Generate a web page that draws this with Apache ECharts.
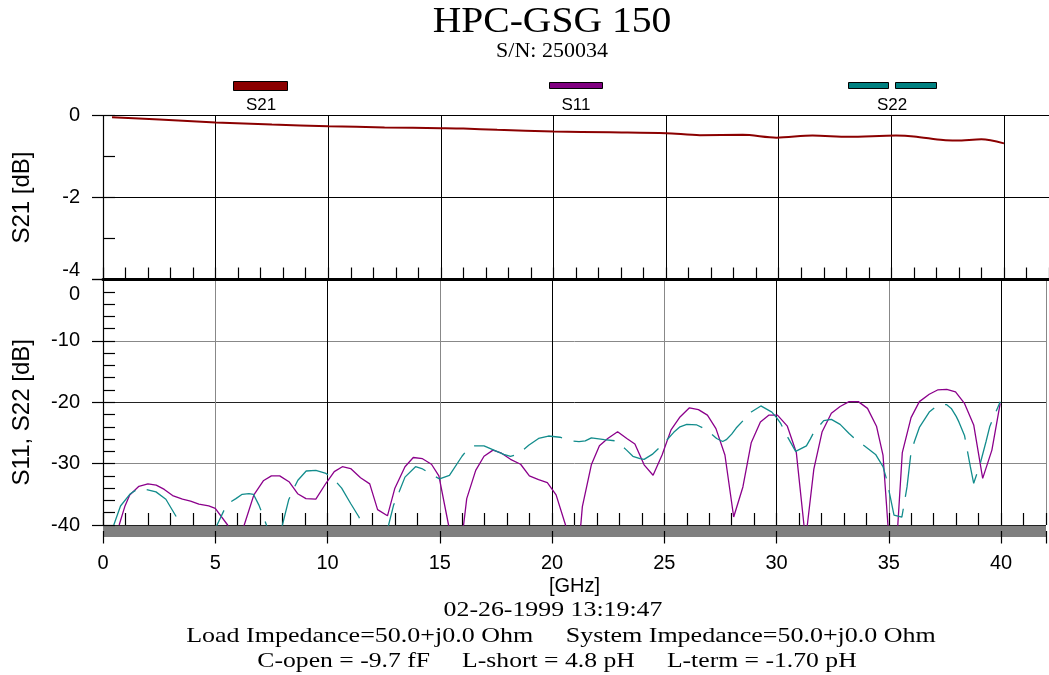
<!DOCTYPE html>
<html>
<head>
<meta charset="utf-8">
<title>HPC-GSG 150</title>
<script src="https://cdn.jsdelivr.net/npm/echarts@6/dist/echarts.min.js"></script>
<style>
    html, body { margin: 0; padding: 0; background: #fff; }
    #chart { width: 1049px; height: 675px; }
</style>
</head>
<body>
<div id="chart"></div>
<script>
// S21 (transmission) [GHz], [dB]
var s21Freq = [0.4, 2.5, 5, 7.5, 10, 12.5, 15, 16, 17.5, 20, 22.5, 25, 26.5, 28.4, 29.9, 31.5, 33.1, 35.2, 36, 37.3, 37.9, 39, 40];
var s21Db = [-0.04, -0.1, -0.17, -0.22, -0.26, -0.29, -0.31, -0.32, -0.35, -0.39, -0.41, -0.43, -0.48, -0.47, -0.54, -0.49, -0.52, -0.49, -0.51, -0.6, -0.61, -0.58, -0.68];

// S11 (input reflection)
var s11Freq = [0.72, 0.97, 1.19, 1.6, 2.0, 2.37, 2.73, 3.1, 3.54, 3.9, 4.27, 4.71, 5.0, 5.55, 5.9, 6.29,
    6.72, 7.14, 7.5, 7.87, 8.3, 8.67, 9.04, 9.48, 9.93, 10.3, 10.66, 11.03, 11.47, 11.88, 12.23, 12.67,
    13.0, 13.45, 13.82, 14.23, 14.63, 14.96, 15.39, 15.7, 16.06, 16.2, 16.6, 16.97, 17.37, 17.75, 18.15,
    18.6, 18.99, 19.4, 19.79, 20.18, 20.6, 20.95, 21.28, 21.35, 21.75, 22.11, 22.48, 22.92, 23.33, 23.69,
    24.1, 24.5, 24.9, 25.3, 25.7, 26.12, 26.52, 26.92, 27.3, 27.7, 28.09, 28.5, 28.87, 29.28, 29.65, 30.04,
    30.48, 30.88, 31.22, 31.3, 31.37, 31.66, 32.03, 32.44, 32.83, 33.23, 33.64, 34.05, 34.45, 34.74, 34.96,
    35.2, 35.4, 35.6, 35.99, 36.36, 36.8, 37.17, 37.58, 37.97, 38.37, 38.78, 39.18, 39.59, 39.96];
var s11Db = [-40, -37.0, -35.1, -33.7, -33.3, -33.5, -34.2, -35.2, -35.8, -36.1, -36.6, -36.9, -37.3, -40, -46, -40,
    -35.1, -32.8, -32.0, -32.0, -33.0, -34.9, -35.7, -35.8, -33.2, -31.3, -30.5, -30.8, -32.3, -33.3, -37.5, -38.5,
    -34.0, -30.5, -29.0, -29.2, -30.1, -32.0, -40, -46, -40, -35.7, -31.1, -28.8, -27.8, -28.3, -29.3,
    -30.1, -32.0, -32.6, -33.1, -35.1, -40, -46, -40, -37.0, -30.2, -27.1, -25.9, -24.8, -25.9, -26.8,
    -30.2, -31.9, -28.6, -24.5, -22.4, -20.9, -21.2, -22.1, -24.3, -28.6, -38.7, -33.8, -26.6, -23.2, -22.1, -22.1,
    -23.9, -28.2, -40, -44, -40, -30.9, -24.8, -21.8, -20.7, -19.9, -19.9, -21.0, -23.9, -28.6, -40,
    -46, -40, -28.2, -22.5, -19.9, -18.7, -18.0, -17.9, -18.3, -20.2, -23.7, -32.4, -27.8, -20.2];

// S22 (output reflection)
var s22Freq = [0.48, 0.78, 1.22, 1.6, 1.92, 2.36, 2.8, 3.32, 3.6, 4.3, 5.08, 5.52, 5.92, 6.2, 6.5, 6.7, 6.95,
    7.28, 7.6, 7.99, 8.27, 8.53, 8.68, 9.05, 9.48, 9.93, 10.3, 10.63, 11.03, 11.4, 11.54, 12.1, 12.72, 12.94,
    13.2, 13.45, 13.92, 14.2, 14.52, 14.99, 15.43, 15.99, 16.25, 16.53, 16.97, 17.41, 17.85, 18.15, 18.45,
    18.7, 18.96, 19.4, 19.84, 20.35, 20.84, 21.2, 21.48, 21.75, 22.33, 22.85, 23.32, 23.6, 23.92, 24.1, 24.46,
    24.9, 25.42, 25.7, 26.0, 26.45, 26.89, 27.33, 27.6, 27.76, 28.0, 28.2, 28.87, 29.3, 29.79, 30.0, 30.19,
    30.48, 30.85, 31.33, 31.5, 31.66, 32.1, 32.44, 32.83, 33.23, 33.5, 33.76, 34.41, 34.74, 34.89, 35.04,
    35.23, 35.58, 35.69, 35.81, 35.99, 36.14, 36.36, 36.8, 37.19, 37.58, 37.78, 38.0, 38.12, 38.37, 38.63,
    38.78, 39.07, 39.33, 39.5, 39.96];
var s22Db = [-40, -36.9, -34.9, -34.0, -34.2, -34.6, -35.8, -39.0, -41, -46, -40, -36.6, -35.7, -35.0, -34.9, -35.0, -36.8,
    -40, -45, -40, -35.9, -33.8, -32.7, -31.2, -31.1, -31.6, -32.6, -34.0, -36.5, -38.7, -40, -46, -40, -36.8,
    -34.5, -32.2, -30.5, -30.8, -31.5, -32.5, -31.9, -28.8, -27.6, -27.1, -27.1, -27.8, -28.5, -28.8, -28.5,
    -27.8, -27.0, -25.9, -25.5, -25.7, -26.3, -26.4, -26.3, -25.8, -26.1, -26.3, -27.8, -28.8, -29.2, -29.3, -28.5,
    -27.0, -24.9, -24.0, -23.6, -23.7, -24.5, -25.9, -26.4, -26.1, -25.2, -24.2, -21.6, -20.6, -21.6, -22.5, -23.5,
    -25.6, -28.0, -27.1, -26.0, -24.9, -23.0, -22.8, -23.6, -25.1, -26.0, -26.7, -28.5, -30.5, -32.4, -35.0,
    -38.4, -38.7, -36.4, -33.8, -28.1, -26.4, -24.1, -21.6, -20.4, -20.4, -21.0, -22.3, -23.2, -25.4, -30.5,
    -33.2, -30.0, -26.4, -23.9, -19.9];

var seriesNames = ['S21', 'S11', 'S22'];
var seriesColors = ['#8b0000', '#8b008b', '#128c8c'];

var sans = 'Liberation Sans, Arial, sans-serif';
var serif = 'Liberation Serif, Times New Roman, serif';

function toPairs(xs, ys) {
    var out = [];
    for (var i = 0; i < xs.length; i++) {
        out.push([xs[i], ys[i]]);
    }
    return out;
}

// axis that only draws short inward ticks
function minorAxis(grid, pos, min, max, step) {
    return {
        type: 'value',
        gridIndex: grid,
        position: pos,
        min: min,
        max: max,
        interval: step,
        axisLine: { show: false, onZero: false },
        axisTick: { show: true, inside: true, length: 12, lineStyle: { color: '#000', width: 1.2 } },
        axisLabel: { show: false },
        splitLine: { show: false }
    };
}

function legendText(x, name) {
    return {
        type: 'text', x: x, y: 105,
        style: { text: name, font: '17px ' + sans, fill: '#000', textAlign: 'center', textVerticalAlign: 'middle' }
    };
}

function legendBox(x, y, w, h, color) {
    return {
        type: 'rect', shape: { x: x, y: y, width: w, height: h },
        style: { fill: color, stroke: '#000', lineWidth: 1 }
    };
}

function serifText(x, y, size, stretch, text) {
    return {
        type: 'text', x: x, y: y, scaleX: stretch,
        style: { text: text, font: size + 'px ' + serif, fill: '#000', textAlign: 'center', textVerticalAlign: 'middle' }
    };
}

var chart = echarts.init(document.getElementById('chart'));

var option = {
    animation: false,
    backgroundColor: '#fff',
    graphic: [
        serifText(552, 23, 36, 1.1, 'HPC-GSG 150'),
        serifText(552, 52, 20, 1.1, 'S/N: 250034'),
        legendBox(233.5, 81.5, 54, 9, seriesColors[0]),
        legendBox(549.5, 82.5, 53, 6, '#800080'),
        legendBox(848.5, 82.5, 40, 6, '#008080'),
        legendBox(895.5, 82.5, 41, 6, '#008080'),
        legendText(261, seriesNames[0]),
        legendText(576, seriesNames[1]),
        legendText(892, seriesNames[2]),
        serifText(553, 610, 21, 1.23, '02-26-1999 13:19:47'),
        serifText(561, 636, 21, 1.238, 'Load Impedance=50.0+j0.0 Ohm     System Impedance=50.0+j0.0 Ohm'),
        serifText(557, 661, 21, 1.222, 'C-open = -9.7 fF     L-short = 4.8 pH     L-term = -1.70 pH')
    ],
    grid: [
        { left: 103, right: -7, top: 115.5, height: 164 },
        { left: 103, right: -7, top: 279.5, height: 245.5 }
    ],
    xAxis: [
        {
            type: 'value', gridIndex: 0, position: 'bottom', min: 0, max: 42, interval: 5,
            axisLine: { show: true, onZero: false, lineStyle: { color: '#000', width: 3 } },
            axisTick: { show: false },
            axisLabel: { show: false },
            splitLine: { show: true, lineStyle: { color: '#000', width: 1 } }
        },
        minorAxis(0, 'bottom', 0, 42, 1),
        {
            type: 'value', gridIndex: 1, position: 'bottom', min: 0, max: 42, interval: 5, offset: 6,
            axisLine: { show: true, onZero: false, lineStyle: { color: '#808080', width: 11, cap: 'butt' } },
            axisTick: { show: true, inside: false, length: 12.5, lineStyle: { color: '#000', width: 1.2 } },
            axisLabel: {
                fontSize: 20, fontFamily: sans, color: '#000', margin: 22,
                formatter: function(v) { return v % 5 === 0 && v <= 40 ? String(v) : ''; }
            },
            splitLine: { show: true, lineStyle: { color: ['#000', '#888'], width: 1 } },
            name: '[GHz]', nameLocation: 'middle', nameGap: 45,
            nameTextStyle: { fontSize: 20, fontFamily: sans, color: '#000' }
        },
        minorAxis(1, 'bottom', 0, 42, 1)
    ],
    yAxis: [
        {
            type: 'value', gridIndex: 0, position: 'left', min: -4, max: 0, interval: 2,
            axisLine: { show: true, onZero: false, lineStyle: { color: '#000', width: 1.2 } },
            axisTick: { show: true, inside: false, length: 11, lineStyle: { color: '#000', width: 1.2 } },
            axisLabel: {
                fontSize: 20, fontFamily: sans, color: '#000', margin: 23,
                formatter: function(v) { return v === -4 ? '{up|-4}' : String(v); },
                rich: { up: { fontSize: 20, fontFamily: sans, color: '#000', padding: [0, 0, 19, 0] } }
            },
            splitLine: { show: true, lineStyle: { color: '#000', width: 1 } },
            name: 'S21 [dB]', nameLocation: 'middle', nameGap: 69, nameRotate: 90,
            nameTextStyle: { fontSize: 24, fontFamily: sans, color: '#000' }
        },
        minorAxis(0, 'left', -4, 0, 1),
        {
            type: 'value', gridIndex: 1, position: 'left', min: -40, max: 0, interval: 10,
            axisLine: { show: true, onZero: false, lineStyle: { color: '#000', width: 1.2 } },
            axisTick: { show: true, inside: false, length: 11, lineStyle: { color: '#000', width: 1.2 } },
            axisLabel: {
                fontSize: 20, fontFamily: sans, color: '#000', margin: 23,
                formatter: function(v) { return v === 0 ? '{down|0}' : String(v); },
                rich: { down: { fontSize: 20, fontFamily: sans, color: '#000', padding: [29, 0, 0, 0] } }
            },
            splitLine: { show: true, lineStyle: { color: ['#222', '#888'], width: 1 } },
            name: 'S11, S22 [dB]', nameLocation: 'middle', nameGap: 69, nameRotate: 90,
            nameTextStyle: { fontSize: 24, fontFamily: sans, color: '#000', padding: [0, 20, 0, 0] }
        },
        minorAxis(1, 'left', -40, 0, 2)
    ],
    series: [
        {
            name: seriesNames[0], type: 'line', xAxisIndex: 0, yAxisIndex: 0,
            showSymbol: false, smooth: 0.3,
            lineStyle: { color: seriesColors[0], width: 2 },
            data: toPairs(s21Freq, s21Db)
        },
        {
            name: seriesNames[1], type: 'line', xAxisIndex: 2, yAxisIndex: 2,
            showSymbol: false,
            lineStyle: { color: seriesColors[1], width: 1.3 },
            data: toPairs(s11Freq, s11Db)
        },
        {
            name: seriesNames[2], type: 'line', xAxisIndex: 2, yAxisIndex: 2,
            showSymbol: false,
            lineStyle: { color: seriesColors[2], width: 1.3, type: [42, 12] },
            data: toPairs(s22Freq, s22Db)
        }
    ]
};

chart.setOption(option);
</script>
</body>
</html>
